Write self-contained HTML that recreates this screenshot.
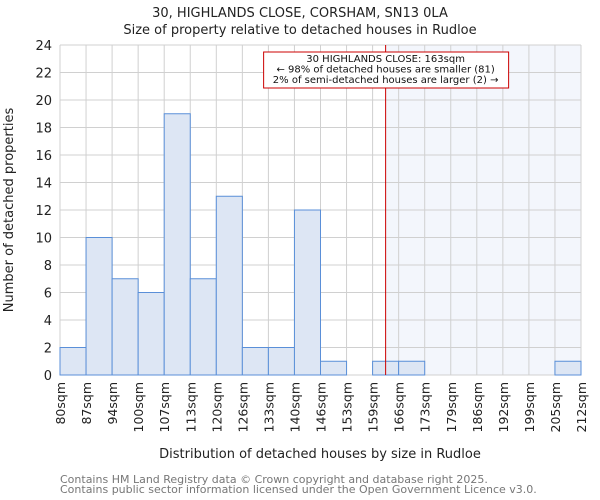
<!DOCTYPE html>
<html><head><meta charset="utf-8"><style>
body{margin:0;background:#fff}
svg{display:block;font-family:"DejaVu Sans","Liberation Sans",sans-serif}
</style></head><body>
<svg id="c" width="600" height="500" viewBox="0 0 600 500">
<text x="300" y="17" text-anchor="middle" font-size="13" fill="#222">30, HIGHLANDS CLOSE, CORSHAM, SN13 0LA</text>
<text x="300" y="34" text-anchor="middle" font-size="13" fill="#222">Size of property relative to detached houses in Rudloe</text>
<g id="plot"></g>
<text transform="translate(13,210) rotate(-90)" text-anchor="middle" font-size="13" fill="#222">Number of detached properties</text>
<text x="320" y="458" text-anchor="middle" font-size="13" fill="#222">Distribution of detached houses by size in Rudloe</text>
<text x="60" y="483" font-size="11" fill="#777">Contains HM Land Registry data © Crown copyright and database right 2025.</text>
<text x="60" y="493" font-size="11" fill="#777">Contains public sector information licensed under the Open Government Licence v3.0.</text>
</svg>
<script>
const binLabels=["80sqm","87sqm","94sqm","100sqm","107sqm","113sqm","120sqm","126sqm","133sqm","140sqm","146sqm","153sqm","159sqm","166sqm","173sqm","179sqm","186sqm","192sqm","199sqm","205sqm","212sqm"];
const counts=[2,10,7,6,19,7,13,2,2,12,1,0,1,1,0,0,0,0,0,1];
const yTicks=[0,2,4,6,8,10,12,14,16,18,20,22,24];
const markerBin=12.5;
const NS="http://www.w3.org/2000/svg";
const X0=60,X1=581,Y0=375,Y1=45,YMAX=24;
const bw=(X1-X0)/counts.length;
const xs=i=>X0+i*bw;
const ys=v=>Y0-(v/YMAX)*(Y0-Y1);
const g=document.getElementById('plot');
function mk(t,a){const e=document.createElementNS(NS,t);for(const k in a)e.setAttribute(k,a[k]);g.appendChild(e);return e;}
const mx=xs(markerBin);
let sh=mk('rect',{x:mx,y:Y1,width:X1-mx,height:Y0-Y1,fill:'#f3f6fc'});


for(let i=0;i<binLabels.length;i++){let l=mk('line',{x1:xs(i),x2:xs(i),y1:Y1,y2:Y0,stroke:'#d0d0d0','stroke-width':1});

}
yTicks.forEach(v=>{let l=mk('line',{x1:X0,x2:X1,y1:ys(v),y2:ys(v),stroke:'#d0d0d0','stroke-width':1});


let t=mk('text',{x:X0-8,y:ys(v)+5,'text-anchor':'end','font-size':13,fill:'#222'});t.textContent=v;

});
counts.forEach((c,i)=>{if(c<=0)return;let r=mk('rect',{x:xs(i),y:ys(c),width:bw,height:Y0-ys(c),fill:'#dde6f4',stroke:'#5a8fd8','stroke-width':1});

});
binLabels.forEach((s,i)=>{let t=mk('text',{transform:`translate(${xs(i)+5},382) rotate(-90)`,'text-anchor':'end','font-size':12.5,fill:'#222'});t.textContent=s;

});
let ml=mk('line',{x1:mx,x2:mx,y1:Y1,y2:Y0,stroke:'#cc0000','stroke-width':1});


let bx=mk('rect',{x:mx-122,y:52,width:245,height:36,fill:'#fff',stroke:'#cc0000','stroke-width':1});


["30 HIGHLANDS CLOSE: 163sqm","← 98% of detached houses are smaller (81)","2% of semi-detached houses are larger (2) →"].forEach((s,k)=>{let t=mk('text',{x:mx,y:62+k*10.5,'text-anchor':'middle','font-size':10,fill:'#111'});t.textContent=s;

});
</script>
</body></html>
